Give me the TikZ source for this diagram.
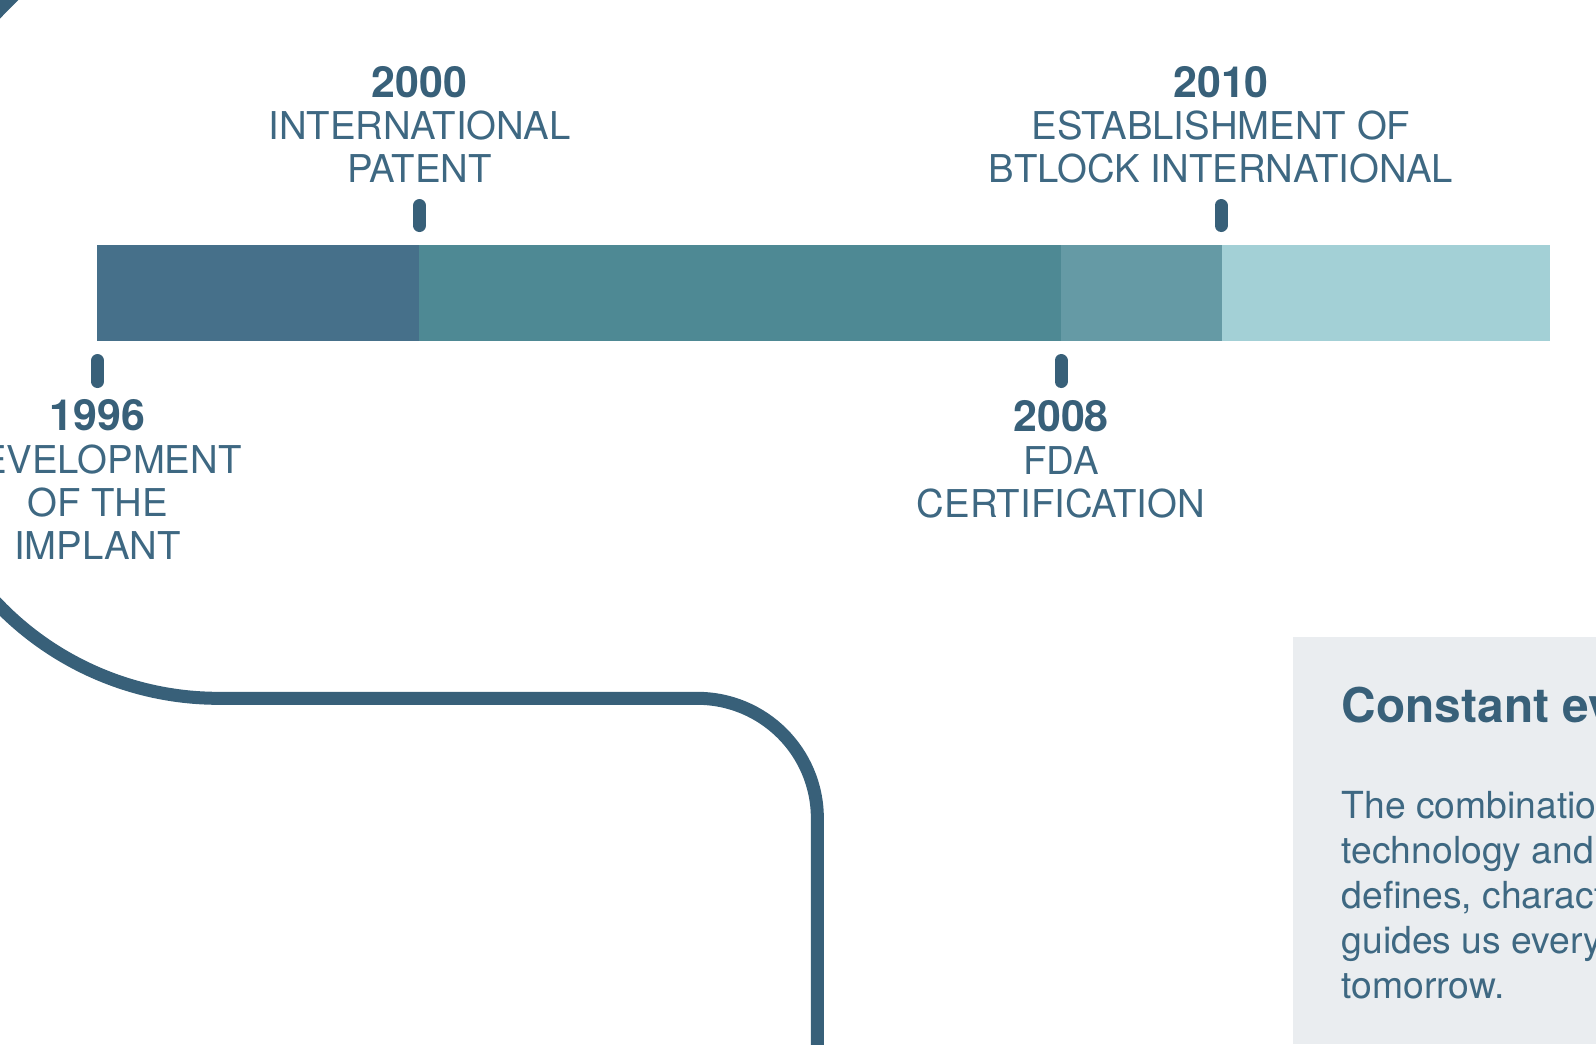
\documentclass[tikz,border=0pt]{standalone}
\usepackage{fontspec}
\setmainfont{TeX Gyre Heros}
\definecolor{navy}{HTML}{386079}
\definecolor{segA}{HTML}{46708A}
\definecolor{segB}{HTML}{4E8994}
\definecolor{segC}{HTML}{659AA5}
\definecolor{segD}{HTML}{A3D0D6}
\definecolor{panel}{HTML}{EAEDF0}
\definecolor{txt}{HTML}{3E6882}
\tikzset{
  event/.style={align=center, text=txt, inner sep=0pt, font=\fontsize{10.9}{12.2}\selectfont},
  yeartick/.style={draw=navy, line width=0.13cm, line cap=round},
  pipe/.style={draw=navy, line width=0.13cm},
}
\newcommand{\yr}[1]{{\fontsize{12.2}{12.2}\selectfont\bfseries\color{navy}#1}}
\begin{document}
\begin{tikzpicture}[x=0.01cm, y=-0.01cm]
    \useasboundingbox (0,0) rectangle (1596,1044);
    % text panel
    \fill[panel] (1293,637) rectangle (1596,1044);
    % timeline bar
    \fill[segA] (97,245) rectangle (419,341);
    \fill[segB] (419,245) rectangle (1061,341);
    \fill[segC] (1061,245) rectangle (1222,341);
    \fill[segD] (1222,245) rectangle (1550,341);
    \foreach \x in {419.5,1221}{
    \draw[yeartick] (\x,205.5)--(\x,225.5);
    }
    \foreach \x in {97.5,1061}{
    \draw[yeartick] (\x,360.5)--(\x,381.5);
    }
    % labels (base = last line)
    \node[event, anchor=base] (y2000) at (419.5,182.8) {\yr{2000}\\INTERNATIONAL\\PATENT};
    \node[event, anchor=base] (y2010) at (1221,182.8) {\yr{2010}\\ESTABLISHMENT OF\\BTLOCK INTERNATIONAL};
    \node[event, anchor=base] (y1996) at (97.5,559.5) {\yr{1996}\\DEVELOPMENT\\OF THE\\IMPLANT};
    \node[event, anchor=base] (y2008) at (1061,517) {\yr{2008}\\FDA\\CERTIFICATION};
    % the pipe
    \draw[pipe] ([shift={(235:432)}]312,308) arc[start angle=235, end angle=138, radius=432]
        arc[start angle=138, end angle=90, radius=306] -- ++(479,0)
        arc[start angle=-90, end angle=0, radius=120] -- ++(0,240);
    \node[anchor=base west, inner sep=0pt, text=navy, font=\fontsize{13.6}{16}\selectfont\bfseries] (head) at (1341,722.7) {Constant ev};
    \node[anchor=base west, inner sep=0pt, align=left, text=txt, font=\fontsize{10.6}{12.8}\selectfont] (body) at (1341,998.3)
        {The combinatio\\technology and\\defines, charact\\guides us every\\tomorrow.};
\end{tikzpicture}
\end{document}
